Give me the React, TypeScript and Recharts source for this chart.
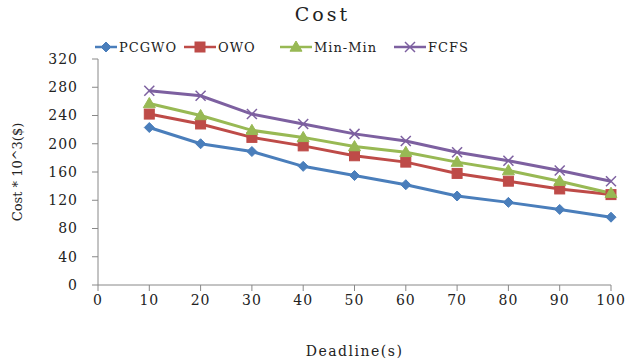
import React from "react";
import { LineChart, Line, XAxis, YAxis } from "recharts";

const deadlines = [10, 20, 30, 40, 50, 60, 70, 80, 90, 100];
const pcgwo = [223, 200, 189, 168, 155, 142, 126, 117, 107, 96];
const owo = [242, 228, 209, 197, 183, 174, 158, 147, 136, 128];
const minMin = [257, 240, 219, 209, 196, 188, 174, 162, 147, 130];
const fcfs = [275, 268, 242, 228, 214, 204, 188, 176, 162, 147];
const xTicks = [0, 10, 20, 30, 40, 50, 60, 70, 80, 90, 100];
const yTicks = [0, 40, 80, 120, 160, 200, 240, 280, 320];

const seriesNames = ["PCGWO", "OWO", "Min-Min", "FCFS"];
const colors = ["#4A7EBB", "#BE4B48", "#98B954", "#7D60A0"];
const shapes = ["diamond", "square", "triangle", "x"];

const data = deadlines.map((d, i) => ({
  d,
  PCGWO: pcgwo[i],
  OWO: owo[i],
  "Min-Min": minMin[i],
  FCFS: fcfs[i],
}));

const FONT = "'DejaVu Serif', serif";

function Marker({ cx, cy, shape, color }: any) {
  if (cx == null || cy == null) return null;
  if (shape === "diamond") {
    const r = 5;
    return <polygon points={`${cx},${cy - r} ${cx + r},${cy} ${cx},${cy + r} ${cx - r},${cy}`} fill={color} stroke={color} />;
  }
  if (shape === "square") {
    const r = 5;
    return <rect x={cx - r} y={cy - r} width={2 * r} height={2 * r} fill={color} stroke={color} />;
  }
  if (shape === "triangle") {
    const r = 6;
    return <polygon points={`${cx},${cy - r} ${cx + r},${cy + r * 0.7} ${cx - r},${cy + r * 0.7}`} fill={color} stroke={color} />;
  }
  const r = 5;
  return (
    <g stroke={color} strokeWidth={1.5}>
      <line x1={cx - r} y1={cy - r} x2={cx + r} y2={cy + r} />
      <line x1={cx - r} y1={cy + r} x2={cx + r} y2={cy - r} />
    </g>
  );
}

function makeDot(i: number) {
  return (props: any) => (
    <Marker key={`${i}-${props.index}`} cx={props.cx} cy={props.cy} shape={shapes[i]} color={colors[i]} />
  );
}

const legendLineStart = [95, 184, 280, 394];

function LegendBox() {
  return (
    <svg width={630} height={20} style={{ position: "absolute", left: 0, top: 37, display: "block" }}>
      {seriesNames.map((n, i) => {
        const x = legendLineStart[i];
        const len = i === 0 ? 22 : 32;
        return (
          <g key={n}>
            <line x1={x} y1={10} x2={x + len} y2={10} stroke={colors[i]} strokeWidth={2.5} />
            <Marker cx={x + len / 2} cy={10} shape={shapes[i]} color={colors[i]} />
            <text x={x + len + 2} y={15} fontFamily={FONT} fontSize={13} letterSpacing={1} fill="#222">
              {n}
            </text>
          </g>
        );
      })}
    </svg>
  );
}

const tickStyle = { fontFamily: FONT, fontSize: 14, fill: "#222", letterSpacing: 1 };

export default function App() {
  return (
    <div style={{ position: "absolute", left: 0, top: 0, width: 630, height: 359, background: "#fff" }}>
      <div
        style={{
          position: "absolute",
          left: 0,
          top: 3,
          width: 645,
          textAlign: "center",
          fontFamily: FONT,
          fontSize: 19,
          letterSpacing: 3,
          color: "#222",
        }}
      >
        Cost
      </div>
      <LegendBox />
      <LineChart width={630} height={359} data={data} margin={{ top: 59, right: 19, bottom: 0, left: 0 }}>
        <XAxis
          dataKey="d"
          type="number"
          domain={[0, 100]}
          ticks={xTicks}
          interval={0}
          stroke="#888"
          tickSize={6}
          tickMargin={4}
          tick={tickStyle}
          height={74}
          label={{ value: "Deadline(s)", position: "insideBottom", offset: 3, style: { fontFamily: FONT, fontSize: 14, fill: "#222", letterSpacing: 1.5 } }}
        />
        <YAxis
          type="number"
          domain={[0, 320]}
          ticks={yTicks}
          interval={0}
          stroke="#888"
          width={98}
          tickSize={6}
          tickMargin={14}
          tick={tickStyle}
          label={{ value: "Cost * 10^3($)", angle: -90, position: "insideLeft", offset: 17, style: { fontFamily: FONT, fontSize: 13, fill: "#222", textAnchor: "middle" } }}
        />
        {seriesNames.map((n, i) => (
          <Line
            key={n}
            dataKey={n}
            stroke={colors[i]}
            strokeWidth={3}
            dot={makeDot(i)}
            activeDot={false}
            isAnimationActive={false}
          />
        ))}
      </LineChart>
    </div>
  );
}
